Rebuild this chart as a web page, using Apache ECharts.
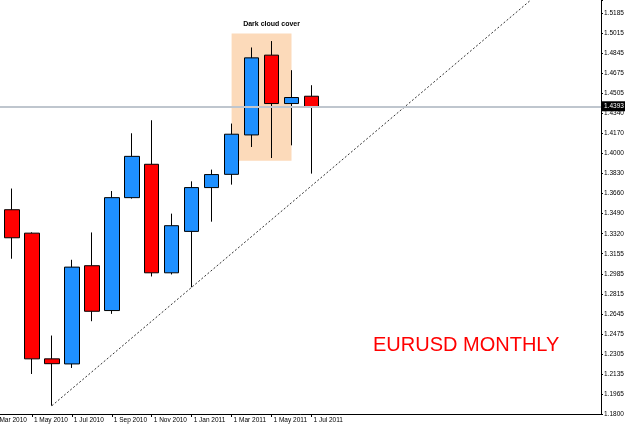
<!DOCTYPE html>
<html>
<head>
<meta charset="utf-8">
<script src="https://cdn.jsdelivr.net/npm/echarts@6/dist/echarts.min.js"></script>
<style>
  html, body { margin: 0; padding: 0; background: #fff; }
  #chart { width: 625px; height: 426px; }
</style>
</head>
<body>
<div id="chart"></div>
<script>
// EURUSD 月线，2010年4月 - 2011年7月
const months = [
  'Mar 2010', 'Apr 2010', 'May 2010', 'Jun 2010', 'Jul 2010', 'Aug 2010',
  'Sep 2010', 'Oct 2010', 'Nov 2010', 'Dec 2010', 'Jan 2011', 'Feb 2011',
  'Mar 2011', 'Apr 2011', 'May 2011', 'Jun 2011', 'Jul 2011', 'Aug 2011',
  'Sep 2011', 'Oct 2011', 'Nov 2011', 'Dec 2011', 'Jan 2012', 'Feb 2012',
  'Mar 2012', 'Apr 2012', 'May 2012', 'Jun 2012', 'Jul 2012', 'Aug 2012',
  'Sep 2012'
]

const candleMonths = [
  'Apr 2010', 'May 2010', 'Jun 2010', 'Jul 2010', 'Aug 2010', 'Sep 2010',
  'Oct 2010', 'Nov 2010', 'Dec 2010', 'Jan 2011', 'Feb 2011', 'Mar 2011',
  'Apr 2011', 'May 2011', 'Jun 2011', 'Jul 2011'
]
const opens  = [1.3526, 1.3328, 1.2266, 1.2223, 1.3053, 1.2674, 1.3628, 1.3910, 1.2993, 1.3343, 1.3713, 1.3825, 1.4158, 1.4832, 1.4423, 1.4485]
const closes = [1.3289, 1.2266, 1.2225, 1.3041, 1.2668, 1.3628, 1.3977, 1.2993, 1.3391, 1.3713, 1.3823, 1.4164, 1.4809, 1.4423, 1.4474, 1.4393]
const lows   = [1.3112, 1.2138, 1.1870, 1.2189, 1.2584, 1.2646, 1.3620, 1.2962, 1.2979, 1.2871, 1.3425, 1.3738, 1.4056, 1.3963, 1.4070, 1.3831]
const highs  = [1.3705, 1.3335, 1.2463, 1.3103, 1.3334, 1.3684, 1.4172, 1.4282, 1.3493, 1.3766, 1.3865, 1.4254, 1.4897, 1.4951, 1.4705, 1.4578]

// 价格刻度（MT4 风格，标签按 0.0005 取整）
const priceTicks = [
  '1.1800', '1.1965', '1.2135', '1.2305', '1.2475', '1.2645', '1.2815',
  '1.2985', '1.3155', '1.3320', '1.3490', '1.3660', '1.3830', '1.4000',
  '1.4170', '1.4340', '1.4505', '1.4675', '1.4845', '1.5015', '1.5185'
]
const priceMin = 1.18
const priceStep = 0.016925
const priceMax = 1.5298
const lastPrice = 1.4393

// 趋势线两端
const trendMonths = ['Jun 2010', 'Jun 2012']
const trendValues = [1.1870, 1.5300]

// 乌云盖顶区域
const patternBox = { from: 'Mar 2011', to: 'Jun 2011', top: 1.5015, bottom: 1.3940 }
const patternLabel = { month: 'May 2011', price: 1.5092, text: 'Dark cloud cover' }

const candleData = months.map(m => {
  const i = candleMonths.indexOf(m)
  return i < 0 ? '-' : [opens[i], closes[i], lows[i], highs[i]]
})
const trendData = months.map(m => {
  const i = trendMonths.indexOf(m)
  return i < 0 ? null : trendValues[i]
})

const lastLabelIdx = months.indexOf('Jul 2011')
const showEveryOther = (idx) => idx % 2 === 0 && idx <= lastLabelIdx
const axisFont = "'Liberation Sans', Arial, sans-serif"

const chart = echarts.init(document.getElementById('chart'), null, { renderer: 'canvas' })

chart.setOption({
  animation: false,
  backgroundColor: '#ffffff',
  grid: { left: -18, right: 24, top: 0, bottom: 12, containLabel: false, outerBoundsMode: 'none' },
  xAxis: {
    type: 'category',
    data: months,
    boundaryGap: true,
    axisLine: { lineStyle: { color: '#000', width: 1 } },
    axisTick: { show: true, alignWithLabel: true, interval: showEveryOther, length: 3, lineStyle: { color: '#000' } },
    axisLabel: {
      interval: showEveryOther,
      formatter: v => '1 ' + v,
      align: 'left',
      padding: [0, 0, 0, 2],
      margin: 3,
      color: '#000',
      fontSize: 6.5,
      fontFamily: axisFont
    },
    splitLine: { show: false }
  },
  yAxis: {
    type: 'value',
    position: 'right',
    min: priceMin,
    max: priceMax,
    interval: priceStep,
    scale: true,
    axisLine: { show: true, lineStyle: { color: '#000', width: 1 } },
    axisTick: { show: true, length: 2, lineStyle: { color: '#000' } },
    axisLabel: {
      margin: 3,
      color: '#000',
      fontSize: 6.5,
      fontFamily: axisFont,
      formatter: v => {
        const k = Math.round((v - priceMin) / priceStep)
        if (k < 0 || k >= priceTicks.length) return ''
        if (Math.abs(v - (priceMin + k * priceStep)) > 1e-4) return ''
        return priceTicks[k]
      }
    },
    splitLine: { show: false }
  },
  series: [
    {
      type: 'candlestick',
      data: candleData,
      barWidth: 15,
      itemStyle: {
        color: '#1E90FF',
        color0: '#FF0000',
        borderColor: '#000',
        borderColor0: '#000',
        borderWidth: 1
      },
      markArea: {
        silent: true,
        itemStyle: { color: '#FCDABA' },
        data: [[
          { xAxis: patternBox.from, yAxis: patternBox.top },
          { xAxis: patternBox.to, yAxis: patternBox.bottom }
        ]]
      },
      markLine: {
        silent: true,
        symbol: 'none',
        lineStyle: { color: '#BFC6CE', width: 2, type: 'solid' },
        label: {
          position: 'end',
          distance: 1,
          formatter: lastPrice.toFixed(4),
          color: '#fff',
          backgroundColor: '#000',
          padding: [2, 2, 1, 2],
          fontSize: 6.5,
          fontFamily: axisFont
        },
        data: [{ yAxis: lastPrice }]
      },
      markPoint: {
        silent: true,
        symbol: 'rect',
        symbolSize: 0,
        label: {
          show: true,
          position: 'inside',
          formatter: patternLabel.text,
          color: '#000',
          fontSize: 7,
          fontWeight: 'bold',
          fontFamily: axisFont
        },
        data: [{ coord: [patternLabel.month, patternLabel.price] }]
      }
    },
    {
      type: 'line',
      data: trendData,
      connectNulls: true,
      symbol: 'none',
      silent: true,
      lineStyle: { color: '#333', width: 1, type: [2, 2] },
      z: 3
    }
  ],
  graphic: [
    {
      type: 'text',
      x: 373,
      y: 345,
      style: {
        text: 'EURUSD MONTHLY',
        fill: '#FF0000',
        font: "20px 'Liberation Sans', Arial, sans-serif",
        verticalAlign: 'middle'
      }
    }
  ]
})
</script>
</body>
</html>
